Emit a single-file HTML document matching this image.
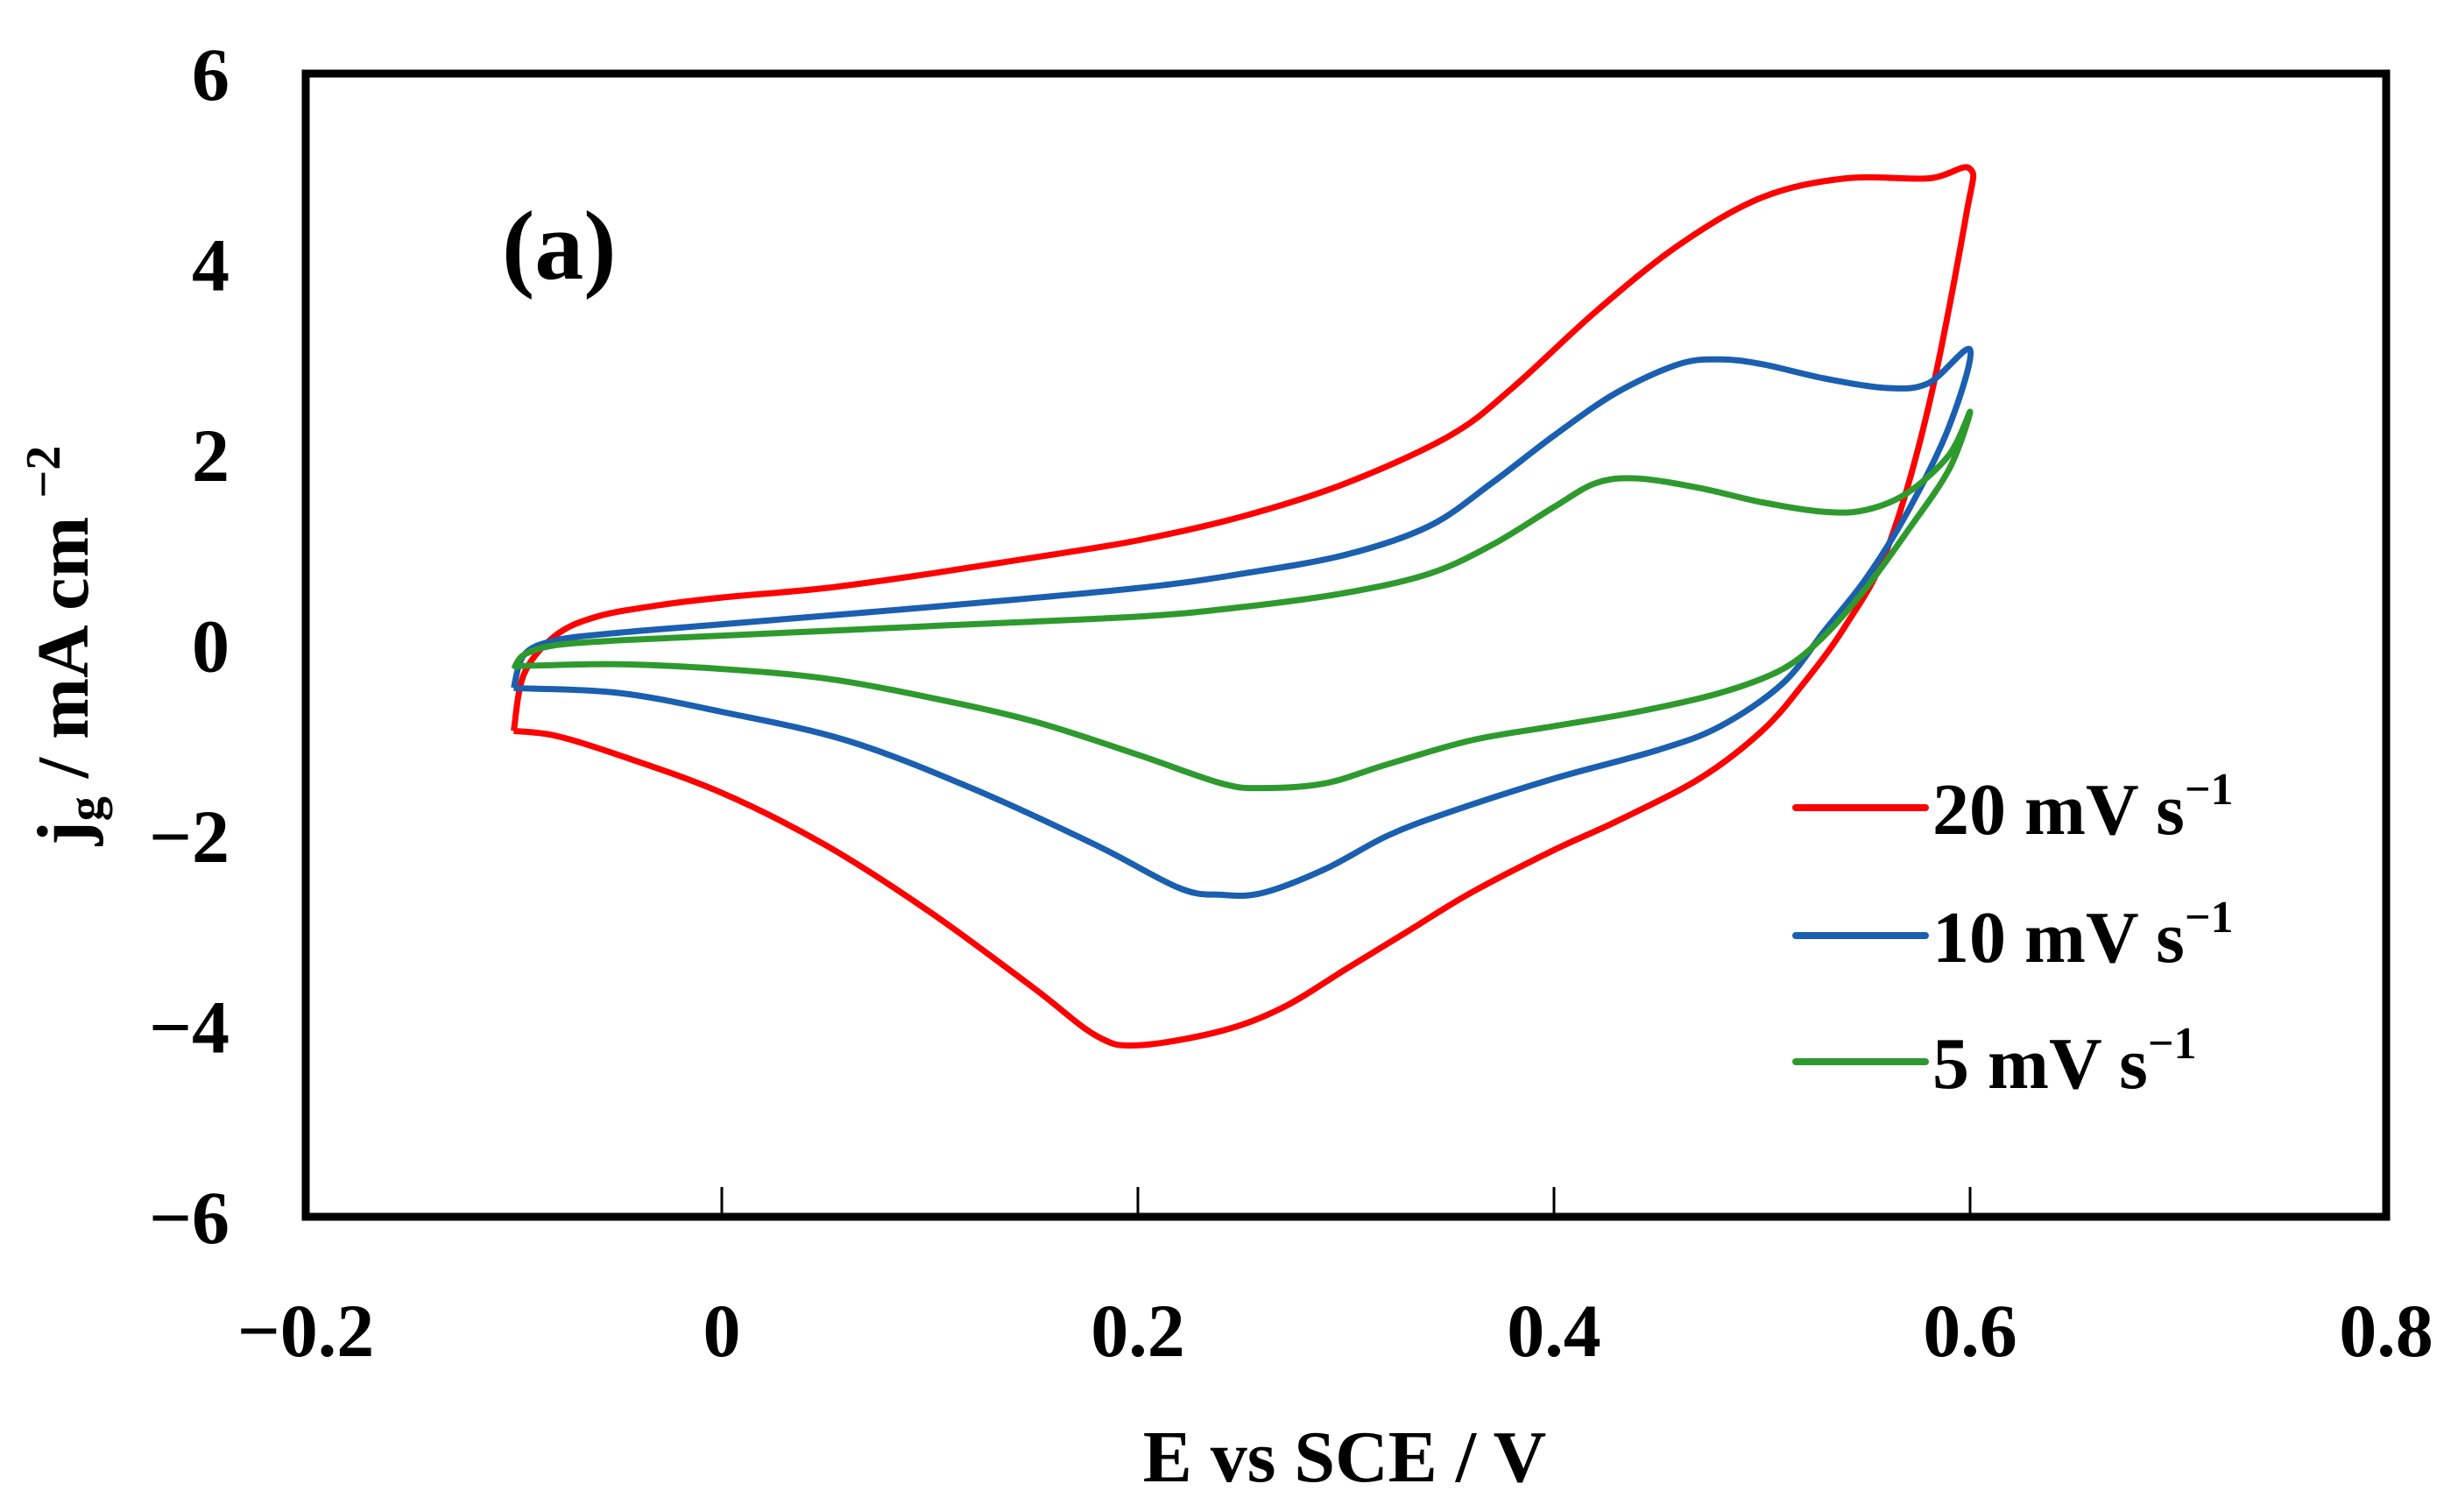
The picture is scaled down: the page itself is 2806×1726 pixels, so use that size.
<!DOCTYPE html>
<html><head><meta charset="utf-8"><style>
html,body{margin:0;padding:0;background:#fff}
svg{display:block}
text{font-family:"Liberation Serif",serif;font-weight:bold;fill:#000}
</style></head><body>
<svg width="2806" height="1726" viewBox="0 0 2806 1726">
<g id="marks"></g>
<rect x="349" y="84" width="2375" height="1305" fill="none" stroke="#000" stroke-width="9"/>
<g id="ticks"></g>
<text x="573" y="318" font-size="112">(a)</text>
<text x="1535" y="1691" font-size="84" text-anchor="middle">E vs SCE / V</text>
<text transform="translate(100,737) rotate(-90)" font-size="84" text-anchor="middle">j<tspan font-size="56" dy="16">g</tspan><tspan dy="-16"> / mA cm </tspan><tspan font-size="56" dy="-32">−2</tspan></text>
<g id="legend"></g>
</svg>
<script>
const xTicks=[-0.2,0,0.2,0.4,0.6,0.8];
const xTickLabels=["−0.2","0","0.2","0.4","0.6","0.8"];
const yTicks=[6,4,2,0,-2,-4,-6];
const yTickLabels=["6","4","2","0","−2","−4","−6"];
const seriesNames=["20 mV s","10 mV s","5 mV s"];
const seriesColors=["#ff0000","#1a5fb0","#2e9a2e"];
const e20=[-0.1,-0.095,-0.08,-0.06,-0.03,0,0.05,0.1,0.15,0.2,0.25,0.3,0.35,0.38,0.42,0.46,0.5,0.54,0.58,0.6,0.598,0.58,0.56,0.54,0.52,0.5,0.47,0.43,0.4,0.36,0.33,0.3,0.27,0.24,0.2,0.18,0.15,0.1,0.05,0,-0.05,-0.08,-0.1];
const j20=[-0.9,-0.3,0.1,0.3,0.42,0.5,0.6,0.75,0.92,1.1,1.35,1.7,2.2,2.7,3.5,4.2,4.7,4.9,4.9,5.0,4.5,2.5,1.0,0.2,-0.4,-0.9,-1.4,-1.85,-2.15,-2.6,-3.0,-3.4,-3.8,-4.05,-4.2,-4.1,-3.6,-2.8,-2.1,-1.55,-1.15,-0.95,-0.9];
const e10=[-0.1,-0.095,-0.08,-0.05,0,0.1,0.2,0.25,0.3,0.34,0.37,0.4,0.43,0.46,0.48,0.5,0.53,0.56,0.58,0.6,0.59,0.57,0.55,0.53,0.51,0.48,0.45,0.4,0.35,0.32,0.29,0.26,0.24,0.22,0.18,0.12,0.06,0,-0.05,-0.1];
const j10=[-0.45,-0.1,0.05,0.13,0.22,0.4,0.6,0.75,0.95,1.25,1.7,2.2,2.65,2.95,3.0,2.95,2.8,2.7,2.75,3.1,2.3,1.4,0.7,0.15,-0.4,-0.85,-1.1,-1.4,-1.75,-2.0,-2.35,-2.6,-2.62,-2.55,-2.1,-1.5,-1.0,-0.7,-0.5,-0.45];
const e5=[-0.1,-0.095,-0.08,-0.05,0,0.1,0.2,0.25,0.3,0.34,0.37,0.4,0.42,0.44,0.47,0.5,0.53,0.55,0.57,0.59,0.6,0.59,0.57,0.55,0.53,0.51,0.48,0.44,0.4,0.36,0.32,0.29,0.26,0.24,0.2,0.15,0.1,0.05,0,-0.05,-0.1];
const j5=[-0.25,-0.1,0.0,0.05,0.1,0.2,0.3,0.4,0.55,0.75,1.05,1.45,1.7,1.75,1.65,1.5,1.4,1.42,1.6,2.0,2.45,1.85,1.2,0.6,0.1,-0.25,-0.5,-0.7,-0.85,-1.0,-1.25,-1.45,-1.5,-1.45,-1.15,-0.8,-0.55,-0.35,-0.25,-0.2,-0.22];

const NS="http://www.w3.org/2000/svg";
const X=v=>349+(v+0.2)/1.0*2375;
const Y=v=>736.5-v*108.75;
function pathFrom(xs,ys){
  const p=xs.map((x,i)=>[X(x),Y(ys[i])]);
  let d="M"+p[0][0]+","+p[0][1];
  for(let i=0;i<p.length-1;i++){
    const p0=p[Math.max(0,i-1)],p1=p[i],p2=p[i+1],p3=p[Math.min(p.length-1,i+2)];
    const c1=[p1[0]+(p2[0]-p0[0])/6,p1[1]+(p2[1]-p0[1])/6];
    const c2=[p2[0]-(p3[0]-p1[0])/6,p2[1]-(p3[1]-p1[1])/6];
    d+=` C${c1[0]},${c1[1]} ${c2[0]},${c2[1]} ${p2[0]},${p2[1]}`;
  }
  return d;
}
const marks=document.getElementById('marks');
const series=[[e20,j20],[e10,j10],[e5,j5]];
const snames=['series-20mv','series-10mv','series-5mv'];
series.forEach((s,k)=>{
  const el=document.createElementNS(NS,'path');
  el.setAttribute('d',pathFrom(s[0],s[1]));
  el.setAttribute('fill','none');
  el.setAttribute('stroke',seriesColors[k]);
  el.setAttribute('stroke-width','7');
  el.setAttribute('stroke-linejoin','round');
  
  
  marks.appendChild(el);
});
const ticks=document.getElementById('ticks');
xTicks.forEach((v,i)=>{
  if(i>0&&i<xTicks.length-1){
    const t=document.createElementNS(NS,'line');
    t.setAttribute('x1',X(v));t.setAttribute('x2',X(v));
    t.setAttribute('y1',1389);t.setAttribute('y2',1355);
    t.setAttribute('stroke','#000');t.setAttribute('stroke-width','3');
    
    
    ticks.appendChild(t);
  }
  const l=document.createElementNS(NS,'text');
  l.setAttribute('x',X(v));l.setAttribute('y',1548);
  l.setAttribute('font-size','86');l.setAttribute('text-anchor','middle');
  l.textContent=xTickLabels[i];
  
  
  ticks.appendChild(l);
});
yTicks.forEach((v,i)=>{
  const l=document.createElementNS(NS,'text');
  l.setAttribute('x',262);l.setAttribute('y',Y(v)+30);
  l.setAttribute('font-size','86');l.setAttribute('text-anchor','end');
  l.textContent=yTickLabels[i];
  
  
  ticks.appendChild(l);
});
const legend=document.getElementById('legend');
const legY=[922,1068,1212];
const lnames=['legend-entry-20mv','legend-entry-10mv','legend-entry-5mv'];
seriesNames.forEach((n,k)=>{
  const g=document.createElementNS(NS,'g');
  
  
  const ln=document.createElementNS(NS,'line');
  ln.setAttribute('x1',2050);ln.setAttribute('x2',2198);
  ln.setAttribute('y1',legY[k]);ln.setAttribute('y2',legY[k]);
  ln.setAttribute('stroke',seriesColors[k]);ln.setAttribute('stroke-width','8');
  ln.setAttribute('stroke-linecap','round');
  g.appendChild(ln);
  const t=document.createElementNS(NS,'text');
  t.setAttribute('x',2206);t.setAttribute('y',legY[k]+30);
  t.setAttribute('font-size','84');
  t.textContent=n;
  const sup=document.createElementNS(NS,'tspan');
  sup.setAttribute('font-size','52');sup.setAttribute('dy','-34');
  sup.textContent='−1';
  t.appendChild(sup);
  g.appendChild(t);
  legend.appendChild(g);
});
</script>
</body></html>
